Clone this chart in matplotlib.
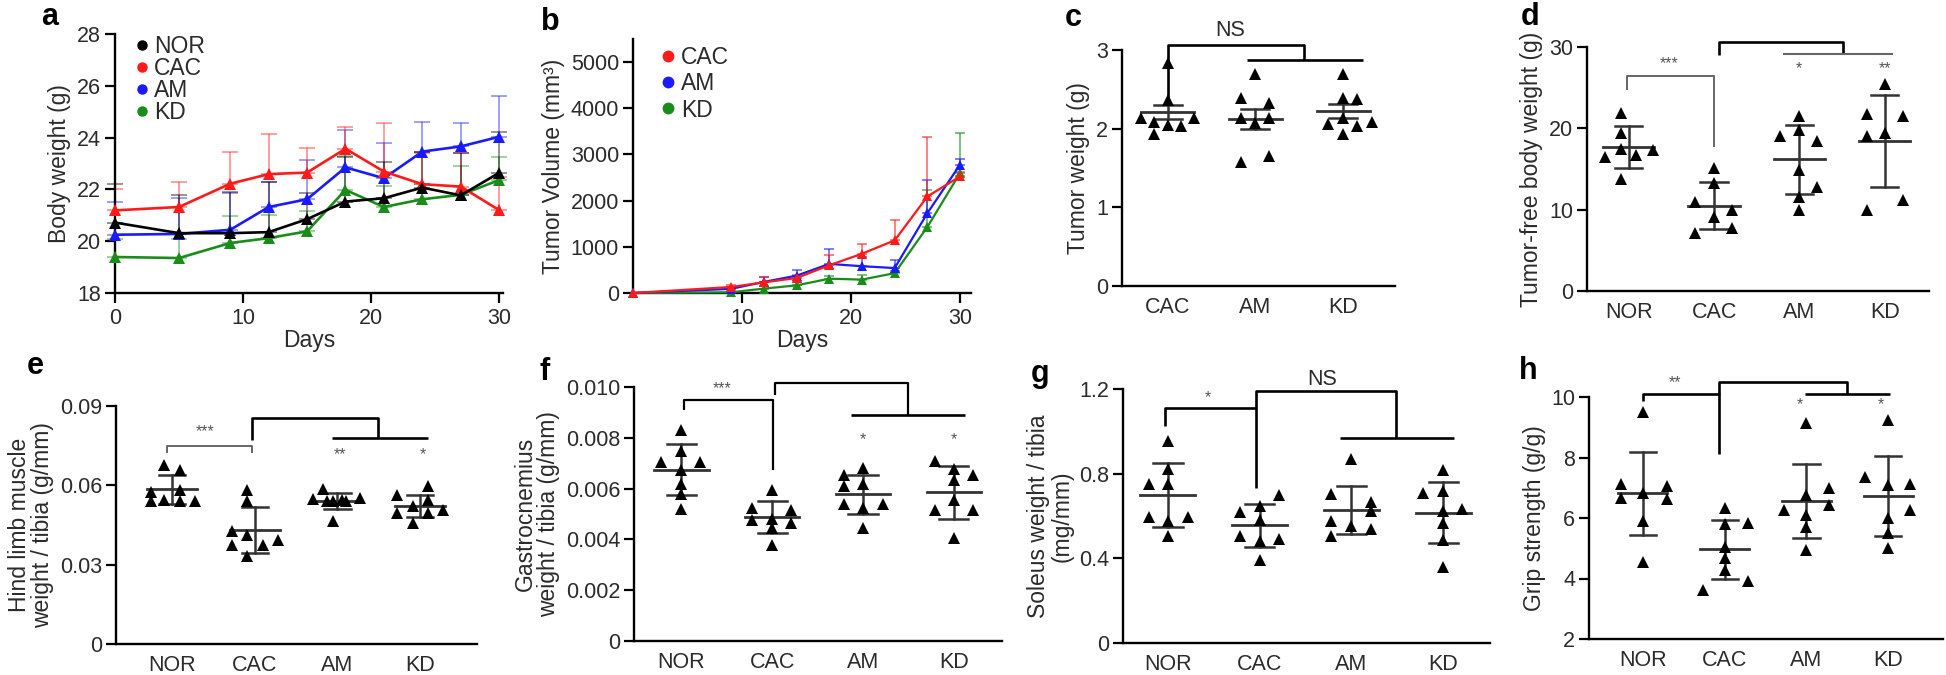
#!/usr/bin/env python3
"""Cachexia mouse model: body weight, tumour growth and muscle readouts (panels a-h)."""

import matplotlib

matplotlib.use("Agg")
import matplotlib.pyplot as plt
import numpy as np
from matplotlib.lines import Line2D

plt.rcParams["font.family"] = ["Liberation Sans", "DejaVu Sans"]

INK = "#2b2b2b"
BAR = "#333333"
FS = 15.5
LABEL_FS = 16.5
LINE_COLORS = {"NOR": "#000000", "CAC": "#ff1a1a", "AM": "#1a1aff", "KD": "#1a8c1a"}

# ---- panel a: body weight over time (mean, upper SD) ----
DAYS_A = [0, 5, 9, 12, 15, 18, 21, 24, 27, 30]
BW_NOR = [20.72, 20.31, 20.31, 20.35, 20.85, 21.53, 21.66, 22.07, 21.77, 22.64]
BW_NOR_SD = [1.48, 1.46, 1.59, 1.92, 1.00, 1.74, 1.39, 1.38, 1.62, 1.56]
BW_CAC = [21.19, 21.32, 22.22, 22.59, 22.65, 23.57, 22.69, 22.20, 22.11, 21.20]
BW_CAC_SD = [0.81, 0.96, 1.22, 1.55, 0.93, 0.84, 1.87, 1.20, 1.29, 1.29]
BW_AM = [20.25, 20.28, 20.44, 21.32, 21.62, 22.85, 22.43, 23.46, 23.66, 24.03]
BW_AM_SD = [1.25, 1.38, 1.44, 0.98, 1.50, 1.45, 1.38, 1.14, 0.90, 1.57]
BW_KD = [19.39, 19.35, 19.93, 20.12, 20.38, 21.98, 21.32, 21.62, 21.79, 22.36]
BW_KD_SD = [0.70, 0.75, 1.05, 0.90, 0.78, 1.30, 0.80, 0.60, 1.13, 0.90]

# ---- panel b: tumour volume over time ----
DAYS_B = [0, 9, 12, 15, 18, 21, 24, 27, 30]
TV_CAC = [0, 130, 230, 325, 600, 850, 1140, 2090, 2525]
TV_CAC_SD = [0, 50, 110, 75, 230, 210, 450, 1290, 100]
TV_AM = [0, 90, 240, 375, 630, 580, 540, 1730, 2780]
TV_AM_SD = [0, 40, 100, 130, 320, 210, 180, 720, 120]
TV_KD = [0, 15, 95, 165, 310, 290, 430, 1430, 2600]
TV_KD_SD = [0, 25, 55, 65, 60, 110, 50, 810, 860]

GROUPS_3 = ["CAC", "AM", "KD"]
GROUPS_4 = ["NOR", "CAC", "AM", "KD"]

# ---- panel c: tumour weight (g) ----
TW_VALUES = [
    [2.83, 2.36, 2.13, 2.13, 2.08, 2.05, 2.03, 1.93],
    [2.69, 2.39, 2.32, 2.13, 2.13, 2.07, 1.58, 1.65],
    [2.69, 2.39, 2.38, 2.06, 2.14, 2.03, 2.09, 1.93],
]
TW_MEAN = [2.21, 2.12, 2.22]
TW_SD = [0.09, 0.125, 0.09]

# ---- panel d: tumour-free body weight (g) ----
TFBW_VALUES = [
    [21.9, 19.4, 17.5, 16.5, 16.7, 17.3, 13.8],
    [15.1, 13.3, 11.0, 9.9, 9.1, 7.1, 7.7],
    [21.5, 19.0, 19.8, 18.5, 14.9, 12.8, 11.6, 10.0],
    [25.4, 21.8, 21.5, 19.0, 19.4, 10.0, 11.2],
]
TFBW_MEAN = [17.7, 10.5, 16.2, 18.4]
TFBW_SD = [2.55, 2.9, 4.25, 5.65]

# ---- panel e: hind limb muscle weight / tibia (g/mm) ----
HL_VALUES = [
    [0.0677, 0.0659, 0.0574, 0.0583, 0.0539, 0.0545, 0.0539, 0.0539],
    [0.0583, 0.0539, 0.0426, 0.0413, 0.0375, 0.0375, 0.0392, 0.0331],
    [0.0585, 0.0548, 0.0539, 0.0539, 0.0552, 0.0467, 0.0545, 0.0541],
    [0.0596, 0.0564, 0.0545, 0.0520, 0.0495, 0.0497, 0.0508, 0.0457],
]
HL_MEAN = [0.0585, 0.0432, 0.0541, 0.0522]
HL_SD = [0.0054, 0.0086, 0.0030, 0.0043]

# ---- panel f: gastrocnemius weight / tibia (g/mm) ----
GA_VALUES = [
    [0.0083, 0.0075, 0.00705, 0.00705, 0.00672, 0.0062, 0.0058, 0.0052],
    [0.00594, 0.00524, 0.00515, 0.00478, 0.00482, 0.00465, 0.00443, 0.00377],
    [0.00683, 0.00653, 0.00609, 0.0062, 0.00539, 0.00539, 0.00522, 0.00443],
    [0.00709, 0.00679, 0.00653, 0.00633, 0.00554, 0.00515, 0.00515, 0.00404],
]
GA_MEAN = [0.00675, 0.00489, 0.00577, 0.00585]
GA_SD = [0.00100, 0.00062, 0.00077, 0.00105]

# ---- panel g: soleus weight / tibia (mg/mm) ----
SO_VALUES = [
    [0.953, 0.822, 0.751, 0.751, 0.595, 0.595, 0.575, 0.507],
    [0.698, 0.646, 0.619, 0.580, 0.504, 0.491, 0.483, 0.394],
    [0.869, 0.706, 0.665, 0.622, 0.575, 0.554, 0.539, 0.504],
    [0.817, 0.720, 0.709, 0.633, 0.625, 0.567, 0.487, 0.359],
]
SO_MEAN = [0.70, 0.556, 0.63, 0.615]
SO_SD = [0.15, 0.102, 0.114, 0.144]

# ---- panel h: grip strength (g/g) ----
GS_VALUES = [
    [9.51, 7.12, 7.05, 6.81, 6.65, 6.62, 5.89, 4.56],
    [6.32, 5.80, 5.85, 5.05, 4.69, 4.29, 3.93, 3.63],
    [9.15, 7.00, 6.76, 6.43, 6.26, 6.10, 5.71, 4.95],
    [9.23, 7.36, 7.08, 7.14, 6.26, 5.99, 5.52, 5.00],
]
GS_MEAN = [6.81, 4.97, 6.57, 6.73]
GS_SD = [1.37, 0.97, 1.23, 1.32]

# tick labels
TICKS_E = ["0", "0.03", "0.06", "0.09"]
TICKS_F = ["0", "0.002", "0.004", "0.006", "0.008", "0.010"]
TICKS_G = ["0", "0.4", "0.8", "1.2"]

# horizontal placement of the dots inside each group (category units)
C_DX = [
    [0, 0, -0.30, 0.30, -0.15, 0, 0.15, -0.15],
    [0, -0.17, 0.16, -0.17, 0.16, 0, -0.17, 0.16],
    [0, 0, 0.16, -0.17, 0, 0.16, 0.33, 0],
]
D_DX = [
    [-0.09, -0.09, -0.09, -0.28, 0.09, 0.28, -0.09],
    [0, 0, -0.22, 0.21, 0, -0.22, 0.21],
    [0, -0.23, 0, 0.21, 0, 0.21, 0, 0],
    [0, -0.21, 0.21, -0.21, 0, -0.21, 0.21],
]
E_DX = [
    [-0.10, 0.10, -0.26, 0.10, -0.26, -0.10, 0.10, 0.28],
    [-0.10, -0.10, -0.28, -0.10, -0.28, 0.10, 0.28, -0.10],
    [-0.17, -0.30, -0.05, 0.11, 0.27, -0.05, 0.05, -0.12],
    [0.10, -0.28, 0.10, -0.08, -0.28, 0.10, 0.28, -0.08],
]
F_DX = [
    [0, 0, -0.22, 0.21, 0, 0, 0, 0],
    [0, -0.22, 0.21, -0.22, 0, 0.21, 0, 0],
    [0, -0.21, -0.21, 0, -0.21, 0.22, 0, 0],
    [-0.21, 0, 0.21, 0, 0, -0.21, 0.21, 0],
]
G_DX = [
    [0, 0, -0.21, 0, -0.21, 0.22, 0, 0],
    [0.21, 0, -0.22, 0, -0.22, 0.21, 0, 0],
    [0, -0.22, 0.21, 0.21, -0.22, 0, 0.21, -0.22],
    [0, 0, -0.22, 0.20, 0, 0, 0, 0],
]
H_DX = [
    [0, -0.27, 0.29, 0, -0.27, 0.29, 0, 0],
    [0, 0, 0.28, 0, 0, 0, 0.28, -0.27],
    [0, 0.27, 0, 0.27, -0.27, 0, 0, 0],
    [0, -0.29, 0, 0.27, 0.27, 0, 0, 0],
]

W, H = 1946, 675


def px_axes(fig, left, right, top, bottom):
    return fig.add_axes([left / W, 1 - bottom / H, (right - left) / W, (bottom - top) / H])


def style_axes(ax, categorical=False):
    for side in ("top", "right"):
        ax.spines[side].set_visible(False)
    for side in ("left", "bottom"):
        ax.spines[side].set_linewidth(1.7)
        ax.spines[side].set_color("black")
    ax.tick_params(axis="y", direction="out", length=7, width=1.6, labelsize=FS, colors="black", labelcolor=INK, pad=3)
    if categorical:
        ax.tick_params(axis="x", length=0, labelsize=FS, labelcolor=INK, pad=8)
    else:
        ax.tick_params(axis="x", direction="out", length=7, width=1.6, labelsize=FS, colors="black", labelcolor=INK)


def bracket(ax, xs, ys, color="black", lw=1.9):
    ax.plot(xs, ys, color=color, lw=lw, clip_on=False, solid_capstyle="butt", zorder=4)


def star(ax, x, y, text, size=11.5):
    ax.text(x, y, text, ha="center", va="center", fontsize=size, color="#555555", clip_on=False)


def dot_panel(ax, labels, values, offsets, means, sds, xlim, ylim, yticks, yticklabels, ylabel):
    for i, (vals, offs) in enumerate(zip(values, offsets)):
        ax.plot(i + np.asarray(offs), vals, "^", color="black", ms=8, mew=0, ls="", clip_on=False, zorder=3)
        m, s = means[i], sds[i]
        ax.plot([i - 0.3, i + 0.3], [m, m], color=BAR, lw=2.0, zorder=2)
        ax.plot([i - 0.16, i + 0.16], [m + s, m + s], color=BAR, lw=1.8, zorder=2)
        ax.plot([i - 0.16, i + 0.16], [m - s, m - s], color=BAR, lw=1.8, zorder=2)
        ax.plot([i, i], [m - s, m + s], color=BAR, lw=1.8, zorder=2)
    ax.set_xlim(*xlim)
    ax.set_ylim(*ylim)
    ax.set_xticks(range(len(labels)))
    ax.set_xticklabels(labels)
    ax.set_yticks(yticks)
    if yticklabels is not None:
        ax.set_yticklabels(yticklabels)
    ax.set_ylabel(ylabel, fontsize=LABEL_FS, color=INK, linespacing=1.0)
    style_axes(ax, categorical=True)


def main():
    fig = plt.figure(figsize=(W / 100, H / 100), dpi=100, facecolor="white")

    # a ---------------------------------------------------------------
    ax = px_axes(fig, 115, 503, 34, 293)
    series_a = [("KD", BW_KD, BW_KD_SD), ("AM", BW_AM, BW_AM_SD), ("CAC", BW_CAC, BW_CAC_SD), ("NOR", BW_NOR, BW_NOR_SD)]
    for name, mean, sd in series_a:
        c = LINE_COLORS[name]
        ax.errorbar(DAYS_A, mean, yerr=[np.zeros(len(sd)), sd], fmt="none", ecolor=c, alpha=0.45,
                    elinewidth=1.3, capsize=5.5, capthick=1.3, clip_on=False, zorder=1)
        ax.plot(DAYS_A, mean, "-^", color=c, lw=1.9, ms=8, mew=0, clip_on=False, zorder=3)
    ax.set_xlim(0, 30.3)
    ax.set_ylim(18, 28)
    ax.set_xticks([0, 10, 20, 30])
    ax.set_yticks(range(18, 29, 2))
    ax.set_xlabel("Days", fontsize=LABEL_FS, color=INK, labelpad=0)
    ax.set_ylabel("Body weight (g)", fontsize=LABEL_FS, color=INK)
    style_axes(ax)
    handles = [Line2D([], [], marker="o", ls="", ms=6.5, color=LINE_COLORS[g], label=g) for g in GROUPS_4]
    ax.legend(handles=handles, loc="upper left", bbox_to_anchor=(0.03, 1.03), frameon=False, fontsize=LABEL_FS,
              handlelength=0.5, handletextpad=0.3, labelspacing=-0.05, borderaxespad=0, labelcolor=INK)

    # b ---------------------------------------------------------------
    ax = px_axes(fig, 633, 971, 39, 293)
    series_b = [("KD", TV_KD, TV_KD_SD), ("AM", TV_AM, TV_AM_SD), ("CAC", TV_CAC, TV_CAC_SD)]
    for name, mean, sd in series_b:
        c = LINE_COLORS[name]
        ax.errorbar(DAYS_B, mean, yerr=[np.zeros(len(sd)), sd], fmt="none", ecolor=c, alpha=0.6,
                    elinewidth=1.3, capsize=3.5, capthick=1.3, clip_on=False, zorder=1)
        ax.plot(DAYS_B, mean, "-^", color=c, lw=1.6, ms=6.5, mew=0, clip_on=False, zorder=3)
    ax.set_xlim(0, 31)
    ax.set_ylim(0, 5500)
    ax.set_xticks([10, 20, 30])
    ax.set_yticks(range(0, 5001, 1000))
    ax.set_xlabel("Days", fontsize=LABEL_FS, color=INK, labelpad=0)
    ax.set_ylabel("Tumor Volume (mm³)", fontsize=LABEL_FS, color=INK)
    style_axes(ax)
    handles = [Line2D([], [], marker="o", ls="", ms=7.5, color=LINE_COLORS[g], label=g) for g in GROUPS_3]
    ax.legend(handles=handles, loc="upper left", bbox_to_anchor=(0.06, 1.01), frameon=False, fontsize=LABEL_FS,
              handlelength=0.5, handletextpad=0.3, labelspacing=0.15, borderaxespad=0, labelcolor=INK)

    # c ---------------------------------------------------------------
    ax = px_axes(fig, 1122, 1395, 50, 286)
    dot_panel(ax, GROUPS_3, TW_VALUES, C_DX, TW_MEAN, TW_SD, (-0.52, 2.59), (0, 3), [0, 1, 2, 3], None,
              "Tumor weight (g)")
    bracket(ax, [0, 0, 1.55, 1.55], [2.36, 3.06, 3.06, 2.87])
    bracket(ax, [0.9, 2.22], [2.87, 2.87])
    ax.text(0.71, 3.25, "NS", ha="center", va="center", fontsize=FS, color=INK, clip_on=False)

    # d ---------------------------------------------------------------
    ax = px_axes(fig, 1587, 1929, 47, 291)
    dot_panel(ax, GROUPS_4, TFBW_VALUES, D_DX, TFBW_MEAN, TFBW_SD, (-0.49, 3.52), (0, 30), [0, 10, 20, 30], None,
              "Tumor-free body weight (g)")
    bracket(ax, [-0.02, -0.02, 1.0, 1.0], [24.7, 26.4, 26.4, 17.7], color="#666666", lw=1.4)
    bracket(ax, [1.06, 1.06, 2.51, 2.51], [29.0, 30.6, 30.6, 29.1])
    bracket(ax, [1.81, 3.1], [29.1, 29.1], color="#666666", lw=1.5)
    star(ax, 0.47, 27.9, "***")
    star(ax, 2.0, 27.4, "*")
    star(ax, 3.0, 27.4, "**")

    # e ---------------------------------------------------------------
    ax = px_axes(fig, 116, 477, 406, 644)
    dot_panel(ax, GROUPS_4, HL_VALUES, E_DX, HL_MEAN, HL_SD, (-0.68, 3.69), (0, 0.09), [0, 0.03, 0.06, 0.09],
              TICKS_E, "Hind limb muscle\nweight / tibia (g/mm)")
    bracket(ax, [-0.06, -0.06, 0.97, 0.97], [0.0721, 0.075, 0.075, 0.0721], color="#666666", lw=1.4)
    bracket(ax, [0.97, 0.97, 2.49, 2.49], [0.0772, 0.0854, 0.0854, 0.0778])
    bracket(ax, [1.93, 3.1], [0.0778, 0.0778])
    star(ax, 0.40, 0.0802, "***")
    star(ax, 2.03, 0.0717, "**")
    star(ax, 3.04, 0.0717, "*")

    # f ---------------------------------------------------------------
    ax = px_axes(fig, 634, 1002, 387, 641)
    dot_panel(ax, GROUPS_4, GA_VALUES, F_DX, GA_MEAN, GA_SD, (-0.52, 3.53), (0, 0.010),
              [0, 0.002, 0.004, 0.006, 0.008, 0.010], TICKS_F, "Gastrocnemius\nweight / tibia (g/mm)")
    bracket(ax, [0.03, 0.03, 1.01, 1.01], [0.00908, 0.00948, 0.00948, 0.00672], lw=1.6)
    bracket(ax, [1.03, 1.03, 2.5, 2.5], [0.00967, 0.01016, 0.01016, 0.00889], lw=1.6)
    bracket(ax, [1.87, 3.12], [0.00889, 0.00889])
    star(ax, 0.45, 0.00993, "***")
    star(ax, 2.0, 0.00793, "*")
    star(ax, 3.0, 0.00793, "*")

    # g ---------------------------------------------------------------
    ax = px_axes(fig, 1123, 1490, 389, 643)
    dot_panel(ax, GROUPS_4, SO_VALUES, G_DX, SO_MEAN, SO_SD, (-0.49, 3.51), (0, 1.2), [0, 0.4, 0.8, 1.2],
              TICKS_G, "Soleus weight / tibia\n(mg/mm)")
    bracket(ax, [-0.03, -0.03, 0.96, 0.96], [1.024, 1.11, 1.11, 0.732])
    bracket(ax, [0.96, 0.96, 2.49, 2.49], [1.11, 1.189, 1.189, 0.968])
    bracket(ax, [1.87, 3.12], [0.968, 0.968])
    star(ax, 0.44, 1.157, "*")
    ax.text(1.68, 1.247, "NS", ha="center", va="center", fontsize=FS, color=INK, clip_on=False)

    # h ---------------------------------------------------------------
    ax = px_axes(fig, 1589, 1943, 397, 639)
    dot_panel(ax, GROUPS_4, GS_VALUES, H_DX, GS_MEAN, GS_SD, (-0.66, 3.67), (2, 10), [2, 4, 6, 8, 10], None,
              "Grip strength (g/g)")
    bracket(ax, [0, 0, 0.93, 0.93], [9.87, 10.1, 10.1, 8.13])
    bracket(ax, [0.93, 0.93, 2.49, 2.49], [10.1, 10.49, 10.49, 10.1])
    bracket(ax, [1.98, 3.02], [10.1, 10.1])
    star(ax, 0.39, 10.47, "**")
    star(ax, 1.92, 9.76, "*")
    star(ax, 2.91, 9.76, "*")

    # panel letters
    for letter, x, y in [("a", 50, 17), ("b", 550, 22), ("c", 1073, 18), ("d", 1530, 17),
                         ("e", 35, 366), ("f", 545, 372), ("g", 1040, 374), ("h", 1528, 371)]:
        fig.text(x / W, 1 - y / H, letter, fontsize=22, fontweight="bold", ha="center", va="center")

    fig.savefig("out.png", dpi=100, facecolor="white")
    plt.close(fig)


if __name__ == "__main__":
    main()
